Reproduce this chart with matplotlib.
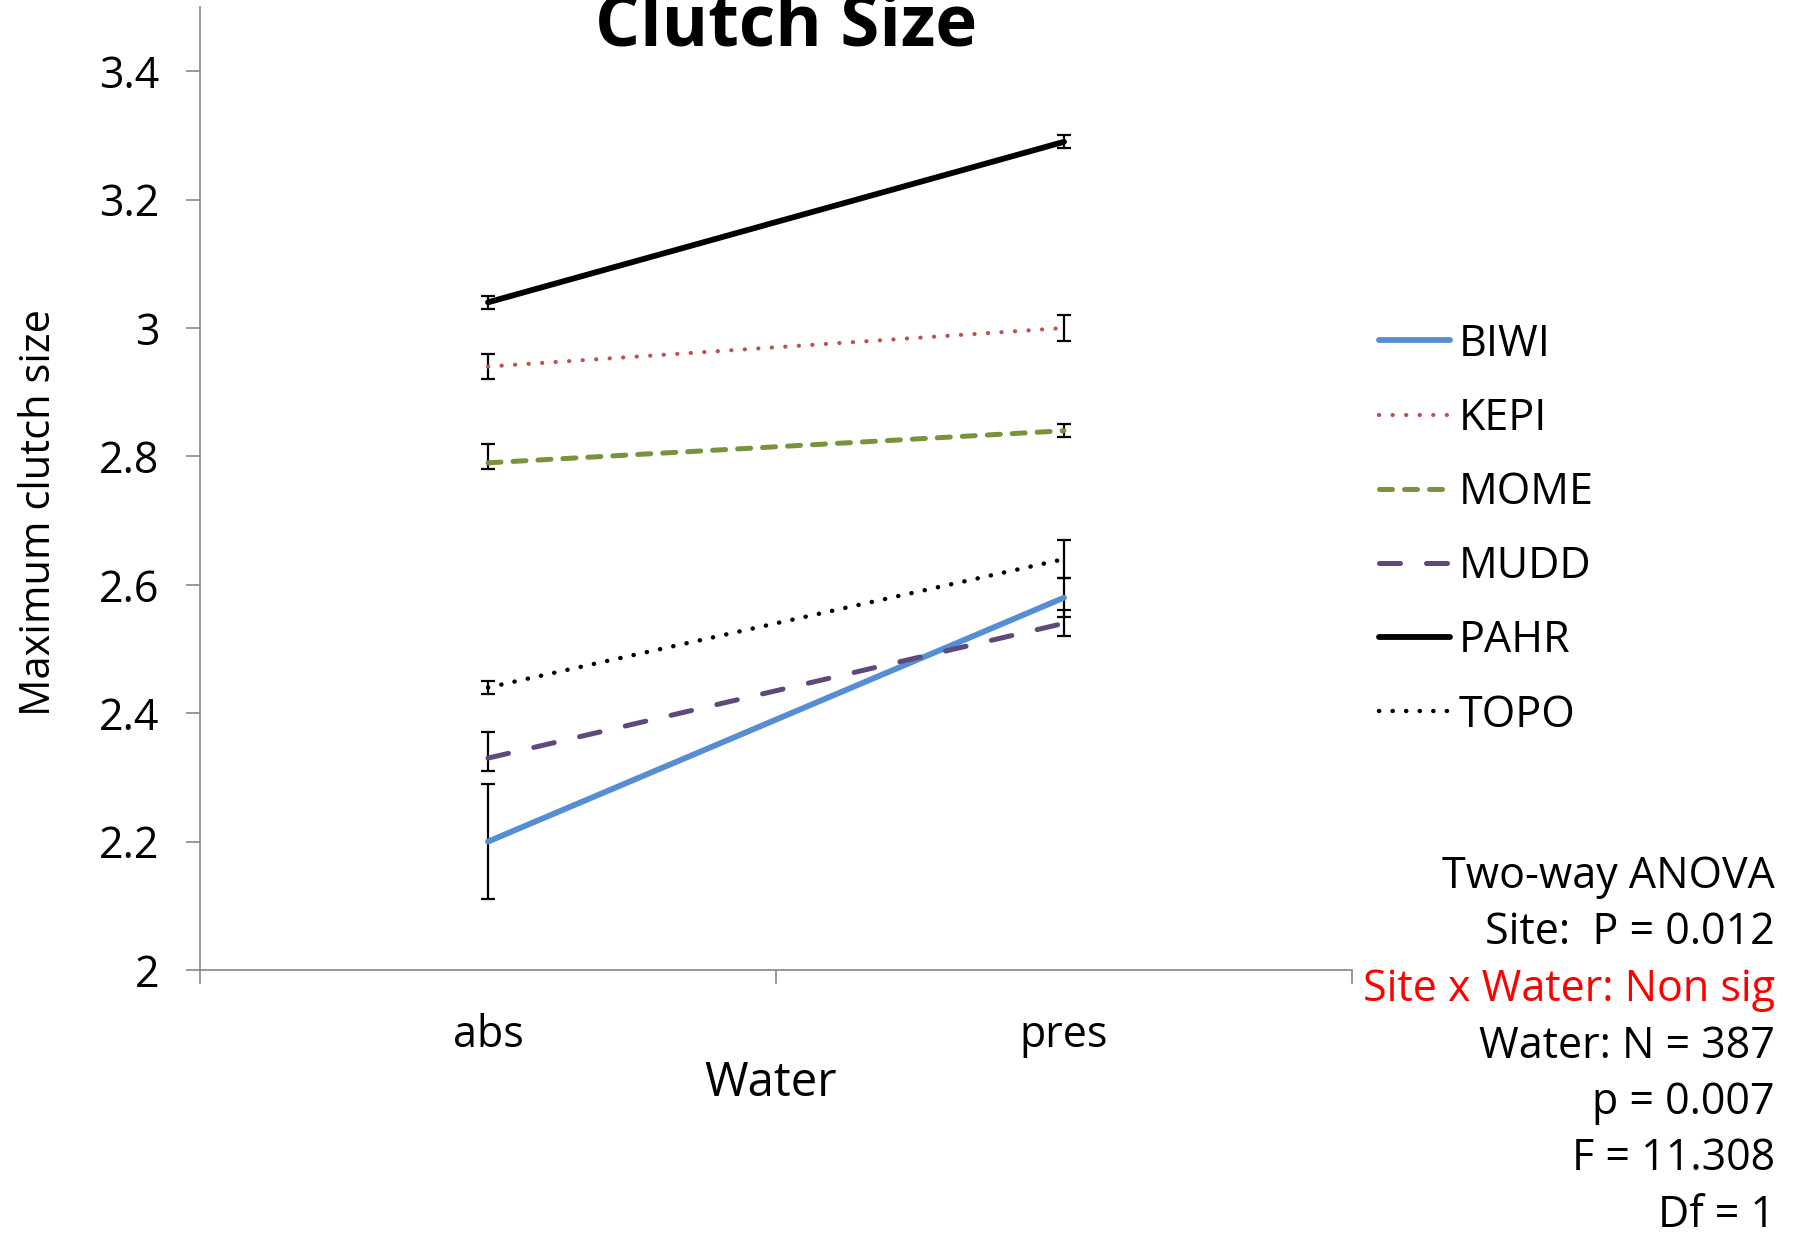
import matplotlib
matplotlib.use("Agg")
import matplotlib.pyplot as plt
import numpy as np

plt.rcParams['font.family'] = ['Open Sans', 'DejaVu Sans']

water = ["abs", "pres"]
sites = ["BIWI", "KEPI", "MOME", "MUDD", "PAHR", "TOPO"]
means = {
    "BIWI": [2.20, 2.58],
    "KEPI": [2.94, 3.00],
    "MOME": [2.79, 2.84],
    "MUDD": [2.33, 2.54],
    "PAHR": [3.04, 3.29],
    "TOPO": [2.44, 2.64],
}
err_low = {
    "BIWI": [0.09, 0.03],
    "KEPI": [0.02, 0.02],
    "MOME": [0.01, 0.01],
    "MUDD": [0.02, 0.02],
    "PAHR": [0.01, 0.01],
    "TOPO": [0.01, 0.03],
}
err_high = {
    "BIWI": [0.09, 0.03],
    "KEPI": [0.02, 0.02],
    "MOME": [0.03, 0.01],
    "MUDD": [0.04, 0.02],
    "PAHR": [0.01, 0.01],
    "TOPO": [0.01, 0.03],
}
yticks = [2, 2.2, 2.4, 2.6, 2.8, 3, 3.2, 3.4]
ytick_labels = ["2", "2.2", "2.4", "2.6", "2.8", "3", "3.2", "3.4"]
anova_lines = ["Two-way ANOVA", "Site:  P = 0.012", "Site x Water: Non sig",
               "Water: N = 387", "p = 0.007", "F = 11.308", "Df = 1"]
anova_colors = ["black", "black", "#FF0000", "black", "black", "black", "black"]

styles = {
    "BIWI": dict(color="#558ED5", lw=4.2, ls="-"),
    "KEPI": dict(color="#C0504D", lw=3.0, ls=(0, (0.05, 3.2))),
    "MOME": dict(color="#77933C", lw=3.6, ls=(0, (2.6, 2.4))),
    "MUDD": dict(color="#5F497A", lw=3.6, ls=(0, (4.2, 5.2))),
    "PAHR": dict(color="#000000", lw=4.2, ls="-"),
    "TOPO": dict(color="#000000", lw=3.2, ls=(0, (0.05, 3.0))),
}

fig = plt.figure(figsize=(18, 12.38), dpi=100)
ax = fig.add_axes([200/1800, 1-970/1238, (1352-200)/1800, (970-7)/1238])

x = np.arange(len(water))
for s in sites:
    ax.errorbar(x, means[s], yerr=[err_low[s], err_high[s]], fmt='none',
                ecolor='black', elinewidth=1.6, capsize=5.0, capthick=1.6, zorder=2)
for s in sites:
    st = styles[s]
    ax.plot(x, means[s], color=st["color"], lw=st["lw"], linestyle=st["ls"],
            dash_capstyle='round', solid_capstyle='round', label=s, zorder=3)

ax.set_xlim(-0.5, 1.5)
ax.set_ylim(2, 3.5)
ax.set_yticks(yticks)
ax.set_yticklabels(ytick_labels)
ax.set_xticks([-0.5, 0.5, 1.5])
ax.set_xticklabels(["", "", ""])
ax.set_xticks(x, minor=True)
ax.set_xticklabels(water, minor=True)
gray = "#868686"
for sp in ["top", "right"]:
    ax.spines[sp].set_visible(False)
for sp in ["left", "bottom"]:
    ax.spines[sp].set_color(gray)
    ax.spines[sp].set_linewidth(1.2)
ax.tick_params(axis='y', which='major', length=10, width=1.2, color=gray,
               labelsize=31, pad=19)
ax.tick_params(axis='x', which='major', length=10, width=1.2, color=gray)
ax.tick_params(axis='x', which='minor', length=0, labelsize=31, pad=31)

fig.text(39/1800, 1-513/1238, "Maximum clutch size", rotation=90,
         fontsize=30, ha='center', va='center')
fig.text(771/1800, 1-1096/1238, "Water", fontsize=34, ha='center', va='baseline')
fig.text(786/1800, 1-46/1238, "Clutch Size", fontsize=51, fontweight='bold',
         ha='center', va='baseline')

ax.legend(loc='upper left', bbox_to_anchor=(1379/1800, 1-322/1238),
          bbox_transform=fig.transFigure, frameon=False, fontsize=31,
          handlelength=1.65, handletextpad=0.2, labelspacing=0.69,
          borderaxespad=0, borderpad=0)

base = 888
for i, (t, c) in enumerate(zip(anova_lines, anova_colors)):
    fig.text(1775/1800, 1-(base + i*56.5)/1238, t, fontsize=31, color=c,
             ha='right', va='baseline')

fig.savefig("out.png", dpi=100)
